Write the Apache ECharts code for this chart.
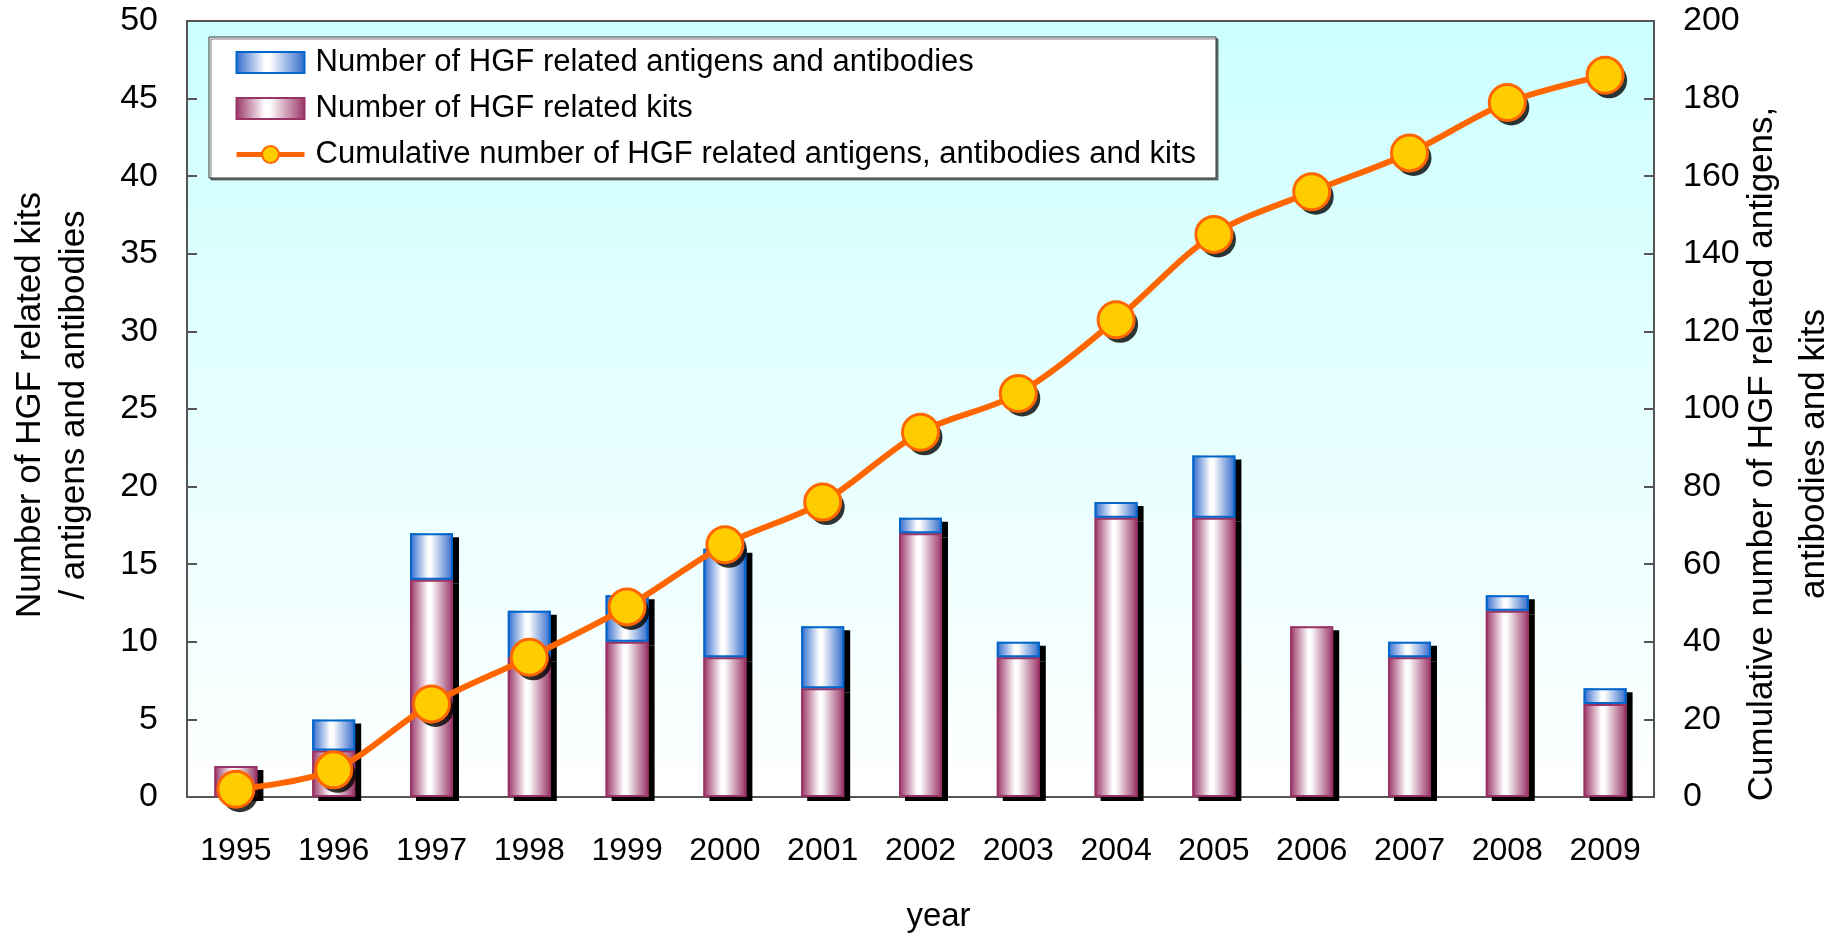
<!DOCTYPE html>
<html>
<head>
<meta charset="utf-8">
<script src="https://cdn.jsdelivr.net/npm/echarts@6/dist/echarts.min.js"></script>
<style>
  html, body { margin: 0; padding: 0; background: #fff; }
  #container { width: 1838px; height: 933px; }
</style>
</head>
<body>
<div id="container"></div>
<script>
var dom = document.getElementById("container");
var myChart = echarts.init(dom);

// values
var years = ['1995', '1996', '1997', '1998', '1999', '2000', '2001', '2002',
  '2003', '2004', '2005', '2006', '2007', '2008', '2009'];
var antigens = [0, 2, 3, 3, 3, 7, 4, 1, 1, 1, 4, 0, 1, 1, 1];
var kits = [2, 3, 14, 9, 10, 9, 7, 17, 9, 18, 18, 11, 9, 12, 6];
var cumulative = [2, 7, 24, 36, 49, 65, 76, 94, 104, 123, 145, 156, 166, 179, 186];

var nameAnti = 'Number of HGF related antigens and antibodies';
var nameKits = 'Number of HGF related kits';
var nameCum = 'Cumulative number of HGF related antigens, antibodies and kits';

var font = 'Liberation Sans, Arial, sans-serif';
var maroon = '#993366';
var blue = '#0066CC';
var orange = '#FF6600';

function hGrad(edge) {
  return {
    type: 'linear', x: 0, y: 0, x2: 1, y2: 0,
    colorStops: [
      { offset: 0, color: edge },
      { offset: 0.42, color: '#ffffff' },
      { offset: 0.5, color: '#fbfbfb' },
      { offset: 1, color: edge }
    ]
  };
}

// zero-height segments are not drawn
function noZero(arr) {
  return arr.map(function (v) { return v === 0 ? null : v; });
}

// filled bars carry the shadow, a second stack on top draws the outlines
function fillBar(name, data, edge, z) {
  return {
    name: name, type: 'bar', stack: 'fill', z: z,
    barWidth: 43, barGap: '-100%',
    data: noZero(data),
    itemStyle: {
      color: hGrad(edge),
      shadowColor: '#000', shadowBlur: 0,
      shadowOffsetX: 6, shadowOffsetY: 4
    }
  };
}
function outlineBar(name, data, edge) {
  return {
    name: name + ' (outline)', type: 'bar', stack: 'outline', z: 4,
    barWidth: 43, barGap: '-100%',
    data: noZero(data),
    itemStyle: { color: 'rgba(0,0,0,0)', borderColor: edge, borderWidth: 2 }
  };
}

var axisGray = '#555';

var option = {
  animation: false,
  textStyle: { fontFamily: font },
  grid: {
    left: 187, right: 184, top: 21, bottom: 136,
    outerBoundsMode: 'none',
    show: true,
    borderColor: axisGray,
    borderWidth: 2,
    backgroundColor: {
      type: 'linear', x: 0, y: 0, x2: 0, y2: 1,
      colorStops: [
        { offset: 0, color: '#CCFFFF' },
        { offset: 1, color: '#FFFFFF' }
      ]
    }
  },
  legend: {
    orient: 'vertical',
    left: 209,
    top: 37,
    padding: [10, 20, 8, 25],
    itemGap: 15,
    itemWidth: 68,
    itemHeight: 21,
    backgroundColor: '#fff',
    borderColor: '#333',
    borderWidth: 1,
    shadowColor: 'rgba(0,0,0,0.5)',
    shadowOffsetX: 2,
    shadowOffsetY: 2,
    shadowBlur: 0,
    itemStyle: { shadowColor: 'rgba(0,0,0,0)', shadowOffsetX: 0, shadowOffsetY: 0 },
    textStyle: { fontSize: 31, color: '#000', fontFamily: font, padding: [0, 0, 0, 6] },
    data: [
      { name: nameAnti, icon: 'rect', itemStyle: { color: hGrad('#2E68CC'), borderColor: blue, borderWidth: 2 } },
      { name: nameKits, icon: 'rect', itemStyle: { color: hGrad(maroon), borderColor: maroon, borderWidth: 2 } },
      { name: nameCum, lineStyle: { color: orange, width: 5 },
        itemStyle: { color: '#FFCC00', borderColor: orange, borderWidth: 2 } }
    ]
  },
  xAxis: {
    type: 'category',
    data: years,
    name: 'year',
    nameLocation: 'middle',
    nameGap: 103,
    nameTextStyle: { fontSize: 33, color: '#000', padding: [0, 0, 0, 36] },
    axisLine: { lineStyle: { color: axisGray, width: 2 } },
    axisTick: { inside: true, length: 12, lineStyle: { color: axisGray, width: 2 } },
    axisLabel: { fontSize: 32, color: '#000', margin: 38 },
    splitLine: { show: false }
  },
  yAxis: [{
    type: 'value',
    min: 0, max: 50, interval: 5,
    name: 'Number of HGF related kits\n/ antigens and antibodies',
    nameLocation: 'middle',
    nameRotate: 90,
    nameGap: 91,
    nameTextStyle: { fontSize: 35, color: '#000', lineHeight: 44, padding: [0, 0, 0, 8] },
    axisLine: { show: true, lineStyle: { color: axisGray, width: 2 } },
    axisTick: { show: true, inside: true, length: 10, lineStyle: { color: axisGray, width: 2 } },
    axisLabel: { fontSize: 34, color: '#000', margin: 29 },
    splitLine: { show: false }
  }, {
    type: 'value',
    min: 0, max: 200, interval: 20,
    position: 'right',
    name: 'Cumulative number of HGF related antigens,\nantibodies and kits',
    nameLocation: 'middle',
    nameRotate: 90,
    nameGap: 82,
    nameMoveOverlap: false,
    nameTextStyle: { fontSize: 35, color: '#000', lineHeight: 52, padding: [0, 90, 0, 0] },
    axisLine: { show: true, lineStyle: { color: axisGray, width: 2 } },
    axisTick: { show: true, inside: true, length: 10, lineStyle: { color: axisGray, width: 2 } },
    axisLabel: { fontSize: 34, color: '#000', margin: 29 },
    splitLine: { show: false }
  }],
  series: [
    fillBar(nameKits, kits, maroon, 3),
    fillBar(nameAnti, antigens, '#2E68CC', 2),
    outlineBar(nameKits, kits, maroon),
    outlineBar(nameAnti, antigens, blue),
    {
      name: 'marker shadow',
      type: 'scatter',
      yAxisIndex: 1,
      z: 5,
      data: cumulative,
      symbol: 'circle',
      symbolSize: 36,
      symbolOffset: [4, 5],
      itemStyle: { color: '#000' }
    },
    {
      name: nameCum,
      type: 'line',
      yAxisIndex: 1,
      z: 6,
      smooth: 0.33,
      data: cumulative,
      symbol: 'circle',
      symbolSize: 36,
      lineStyle: { color: orange, width: 6 },
      itemStyle: { color: '#FFCC00', borderColor: orange, borderWidth: 3 }
    }
  ]
};

if (option && typeof option === "object") {
  myChart.setOption(option, true);
}
</script>
</body>
</html>
